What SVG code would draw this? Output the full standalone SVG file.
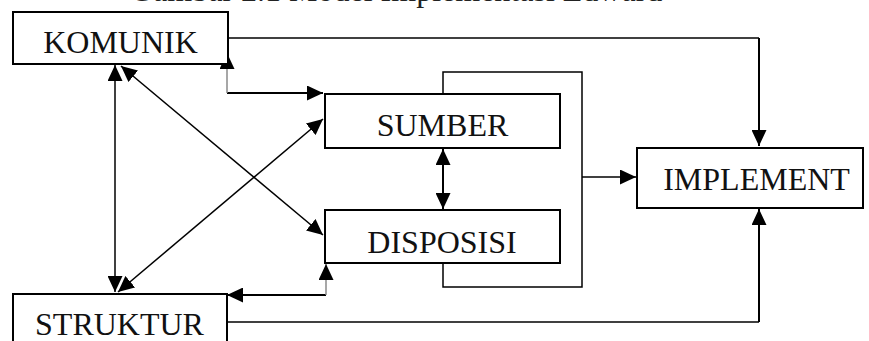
<svg xmlns="http://www.w3.org/2000/svg" width="869" height="341" viewBox="0 0 869 341">
  <style>
    .box { fill: #ffffff; stroke: #000000; stroke-width: 2; }
    .label { font-family: "Liberation Serif", "Times New Roman", serif; font-size: 32px; fill: #111111; text-anchor: middle; }
    .title { font-family: "Liberation Serif", "Times New Roman", serif; font-size: 32px; fill: #222222; }
    .wire { fill: none; stroke: #000000; stroke-width: 1.5; }
    .wire-bold { fill: none; stroke: #000000; stroke-width: 2; }
    .wire-grey { fill: none; stroke: #8a8a8a; stroke-width: 1.5; }
  </style>
  <defs>
    <marker id="head" viewBox="0 0 16 15" refX="16" refY="7.5" markerWidth="16" markerHeight="15" markerUnits="userSpaceOnUse" orient="auto-start-reverse">
      <path d="M0,0 L16,7.5 L0,15 Z" fill="#000000"/>
    </marker>
  </defs>

  <rect width="869" height="341" fill="#ffffff"/>

  <!-- caption, running off the top edge -->
  <text class="title" x="130" y="1.2">Gambar 2.1 Model Implementasi Edward</text>

  <g id="connectors">
    <!-- KOMUNIK to IMPLEMENT over the top -->
    <path class="wire" d="M228,38 H759"/>
    <path class="wire-bold" d="M759,38 V146" marker-end="url(#head)"/>
    <!-- STRUKTUR to IMPLEMENT along the bottom -->
    <path class="wire" d="M227,322 H759"/>
    <path class="wire-bold" d="M759,322 V209" marker-end="url(#head)"/>
    <!-- bracket joining SUMBER and DISPOSISI, feeding IMPLEMENT -->
    <path class="wire" d="M443,94 V72 H582 V287 H443 V263"/>
    <path class="wire" d="M582,177 H636" marker-end="url(#head)"/>
    <!-- SUMBER <-> DISPOSISI -->
    <path class="wire-bold" d="M443,149 V209" marker-start="url(#head)" marker-end="url(#head)"/>
    <!-- KOMUNIK <-> STRUKTUR -->
    <path class="wire" d="M115,65 V292" marker-start="url(#head)" marker-end="url(#head)"/>
    <!-- KOMUNIK <-> DISPOSISI -->
    <path class="wire" d="M121,66 L323,235" marker-start="url(#head)" marker-end="url(#head)"/>
    <!-- STRUKTUR <-> SUMBER -->
    <path class="wire" d="M118,292 L323,119" marker-start="url(#head)" marker-end="url(#head)"/>
    <!-- KOMUNIK <-> SUMBER elbow -->
    <path class="wire-bold" d="M227,93 H323" marker-end="url(#head)"/>
    <path class="wire-grey" d="M227,93 V53" marker-end="url(#head)"/>
    <!-- DISPOSISI <-> STRUKTUR elbow -->
    <path class="wire-bold" d="M326,295 H227" marker-end="url(#head)"/>
    <path class="wire-grey" d="M326,295 V264" marker-end="url(#head)"/>
  </g>

  <g id="komunik">
    <rect class="box" x="13" y="12" width="215" height="52"/>
    <text class="label" x="120.5" y="53">KOMUNIK</text>
  </g>
  <g id="sumber">
    <rect class="box" x="325" y="94" width="235" height="54"/>
    <text class="label" x="442.5" y="136">SUMBER</text>
  </g>
  <g id="disposisi">
    <rect class="box" x="325" y="210" width="235" height="53"/>
    <text class="label" x="442" y="253">DISPOSISI</text>
  </g>
  <g id="implement">
    <rect class="box" x="637" y="148" width="226" height="60"/>
    <text class="label" x="756.5" y="190">IMPLEMENT</text>
  </g>
  <g id="struktur">
    <rect class="box" x="13" y="294" width="214" height="60"/>
    <text class="label" x="119.5" y="335">STRUKTUR</text>
  </g>
</svg>
